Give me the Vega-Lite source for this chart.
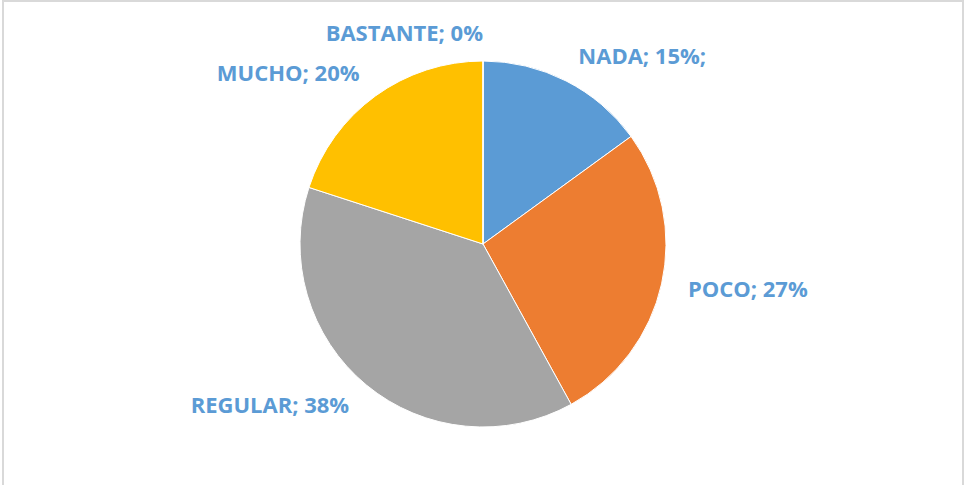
{
  "$schema": "https://vega.github.io/schema/vega-lite/v6.json",
  "width": 960,
  "height": 486,
  "autosize": {"type": "none"},
  "padding": {"left": 3, "top": 1, "right": 3, "bottom": 0},
  "background": "white",
  "config": {"view": {"stroke": "#d9d9d9", "strokeWidth": 1}},
  "data": {
    "values": [
      {"category": "NADA", "value": 15, "label": "NADA; 15%;"},
      {"category": "POCO", "value": 27, "label": "POCO; 27%"},
      {"category": "REGULAR", "value": 38, "label": "REGULAR; 38%"},
      {"category": "MUCHO", "value": 20, "label": "MUCHO; 20%"},
      {"category": "BASTANTE", "value": 0, "label": "BASTANTE; 0%"}
    ]
  },
  "layer": [
    {
      "mark": {"type": "rect", "fill": null, "stroke": "#d9d9d9", "strokeWidth": 1.5},
      "encoding": {}
    },
    {
      "transform": [{"window": [{"op": "row_number", "as": "rank"}]}],
      "encoding": {
        "theta": {"field": "value", "type": "quantitative", "stack": true},
        "order": {"field": "rank", "type": "quantitative"}
      },
      "layer": [
        {
          "mark": {"type": "arc", "outerRadius": 183, "stroke": "white", "strokeWidth": 1},
          "encoding": {
            "color": {
              "field": "category",
              "type": "nominal",
              "scale": {
                "domain": ["NADA", "POCO", "REGULAR", "MUCHO", "BASTANTE"],
                "range": ["#5B9BD5", "#ED7D31", "#A5A5A5", "#FFC000", "#4472C4"]
              },
              "legend": null
            }
          }
        },
        {
          "mark": {
            "type": "text",
            "radius": 210,
            "font": "Open Sans",
            "fontSize": 22,
            "fontWeight": "bold",
            "baseline": "middle",
            "align": {"expr": "datum.value_start + datum.value_end < 100 ? 'left' : 'right'"}
          },
          "encoding": {
            "text": {"field": "label"},
            "color": {"value": "#5B9BD5"}
          }
        }
      ]
    }
  ]
}
